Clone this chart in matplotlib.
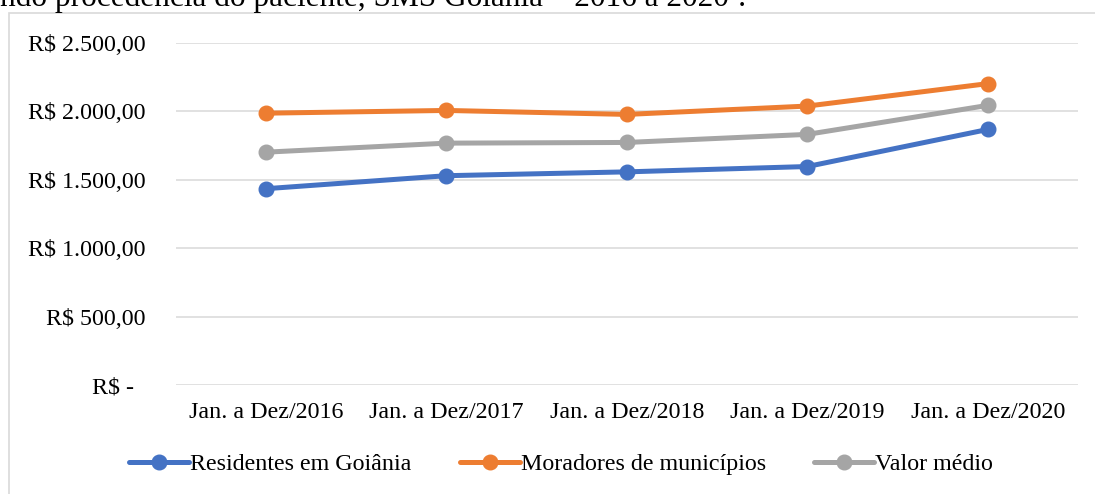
import matplotlib
matplotlib.use("Agg")
import matplotlib.pyplot as plt
from matplotlib.patches import Rectangle
from matplotlib.ticker import FuncFormatter

# Dados
periodos = ["Jan. a Dez/2016", "Jan. a Dez/2017", "Jan. a Dez/2018",
            "Jan. a Dez/2019", "Jan. a Dez/2020"]
residentes = [1435, 1530, 1558, 1597, 1868]
moradores = [1987, 2007, 1978, 2039, 2203]
valor_medio = [1702, 1768, 1773, 1832, 2044]

series = [
    ("Residentes em Goiânia", residentes, "#4472c4"),
    ("Moradores de municípios", moradores, "#ed7d31"),
    ("Valor médio", valor_medio, "#a5a5a5"),
]

plt.rcParams["font.family"] = ["Liberation Serif", "DejaVu Serif"]

fig = plt.figure(figsize=(10.95, 4.94), dpi=100)

# Moldura do gráfico
fig.add_artist(Rectangle((9 / 1095, -0.02), 1.05, (494 - 13) / 494 + 0.02,
                         transform=fig.transFigure, fill=False,
                         edgecolor="#d9d9d9", linewidth=1.2))

# Título cortado no topo
fig.text(0.0, (494 - 6) / 494,
         "ndo procedência do paciente, SMS Goiânia – 2016 a 2020¹.",
         fontsize=22.5, ha="left", va="baseline", color="black")

ax = fig.add_axes([175.75 / 1095, (494 - 385) / 494, 902.25 / 1095, 342 / 494])

x = range(len(periodos))
for nome, valores, cor in series:
    ax.plot(x, valores, color=cor, linewidth=3.6, marker="o",
            markersize=10.5, label=nome, solid_capstyle="round")

ax.set_xlim(-0.5, len(periodos) - 0.5)
ax.set_ylim(0, 2500)
ax.set_yticks([0, 500, 1000, 1500, 2000, 2500])


def fmt_real(v, pos):
    if v == 0:
        return "R$ - \u2009"
    s = f"{v:,.2f}".replace(",", "X").replace(".", ",").replace("X", ".")
    return "R$ " + s


ax.yaxis.set_major_formatter(FuncFormatter(fmt_real))
ax.set_xticks(list(x))
ax.set_xticklabels(periodos)

ax.grid(axis="y", color="#d9d9d9", linewidth=1.1)
ax.set_axisbelow(True)
for s in ax.spines.values():
    s.set_visible(False)
ax.tick_params(axis="both", length=0, labelsize=17.3)
ax.tick_params(axis="y", pad=22)
ax.tick_params(axis="x", pad=12)

fig.legend(loc="center", bbox_to_anchor=(561 / 1095, 30 / 494), ncol=3,
           frameon=False, fontsize=17.3, handlelength=2.5, handletextpad=0.05,
           columnspacing=2.0)

fig.savefig("out.png", dpi=100)
